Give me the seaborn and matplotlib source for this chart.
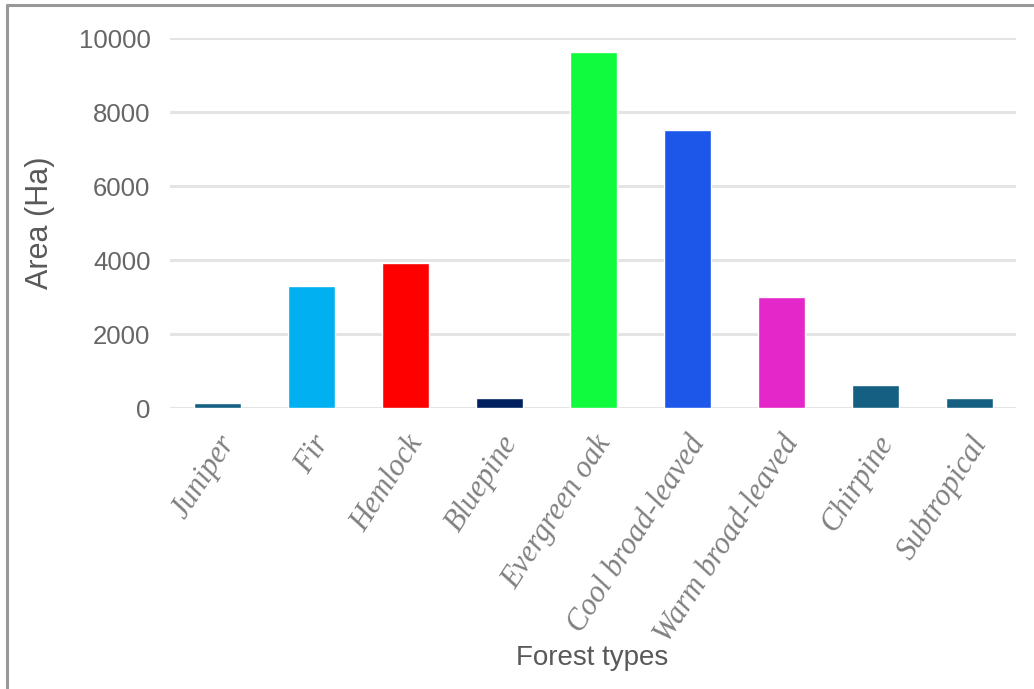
import matplotlib
matplotlib.use('Agg')
import matplotlib.pyplot as plt
import seaborn as sns
import pandas as pd
from matplotlib.lines import Line2D

# Forest area by type
forest_types = ['Juniper', 'Fir', 'Hemlock', 'Bluepine', 'Evergreen oak',
                'Cool broad-leaved', 'Warm broad-leaved', 'Chirpine', 'Subtropical']
area_ha = [130, 3290, 3910, 270, 9630, 7500, 2990, 610, 260]
bar_colors = ['#156082', '#00B0F0', '#FF0000', '#002060', '#10FB3E',
              '#1C57EA', '#E327C8', '#156082', '#156082']
y_ticks = [0, 2000, 4000, 6000, 8000, 10000]

data = pd.DataFrame({'Forest type': forest_types, 'Area': area_ha})

sns.set_style('white')
fig = plt.figure(figsize=(10.34, 6.89), dpi=100)
ax = fig.add_axes([170 / 1034, 1 - 408 / 689, (1016 - 170) / 1034, (408 - 38) / 689])

sns.barplot(data=data, x='Forest type', y='Area', hue='Forest type',
            palette=dict(zip(forest_types, bar_colors)), width=0.5,
            legend=False, saturation=1, ax=ax, zorder=3)

ax.set_xlim(-0.5, len(forest_types) - 0.5)
ax.set_ylim(0, 10000)
ax.set_yticks(y_ticks)
ax.set_yticklabels([str(t) for t in y_ticks], fontsize=18.5, color='#666666',
                   family='Liberation Sans')
ax.tick_params(axis='y', length=0, pad=14)
ax.tick_params(axis='x', length=0, pad=16)
ax.grid(axis='y', color='#E4E4E4', linewidth=2.2, zorder=0)
ax.set_axisbelow(True)
for s in ax.spines.values():
    s.set_visible(False)

ax.set_xticks(range(len(forest_types)))
ax.set_xticklabels(forest_types, rotation=57, ha='right', va='top',
                   rotation_mode='anchor', fontsize=22, style='italic',
                   family='Liberation Serif', color='#808080')

ax.set_xlabel('Forest types', fontsize=20, color='#595959', family='Liberation Sans')
ax.xaxis.set_label_coords((592 - 170) / (1016 - 170), -(645 - 408) / (408 - 38))
ax.set_ylabel('Area (Ha)', fontsize=22, color='#595959', family='Liberation Sans')
ax.yaxis.set_label_coords(-(170 - 55) / (1016 - 170), 0.5)

# grey frame at the top and left of the picture
fig.add_artist(Line2D([7 / 1034, 7 / 1034], [0, 1 - 5 / 689], transform=fig.transFigure,
                      color='#999999', linewidth=2.2))
fig.add_artist(Line2D([7 / 1034, 1], [1 - 5 / 689, 1 - 5 / 689], transform=fig.transFigure,
                      color='#999999', linewidth=2.2))

fig.savefig('out.png', dpi=100)
